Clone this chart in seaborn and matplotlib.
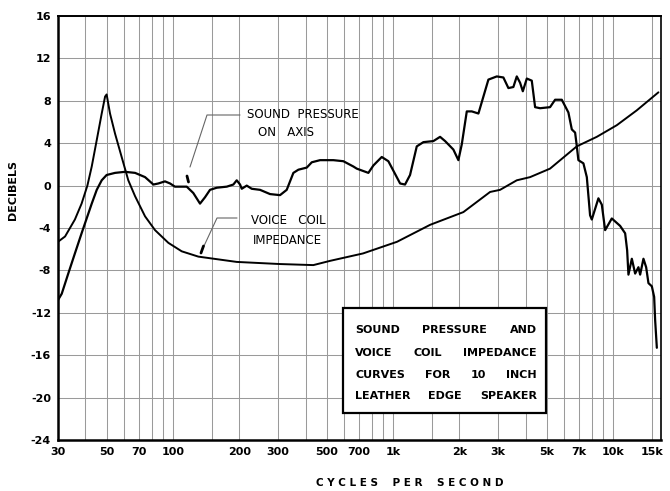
import matplotlib
matplotlib.use("Agg")
import matplotlib.pyplot as plt
import numpy as np
import pandas as pd
import seaborn as sns
from matplotlib.patches import Rectangle
from matplotlib.ticker import NullLocator

# Sound pressure on axis (dB) against frequency (c/s)
spl_freq = [30, 31.2, 33.4, 35.8, 38.4, 40.8, 42.7, 45.0, 47.4, 49.9, 54.5, 60.5,
            67.2, 74.6, 81.4, 85.7, 91.9, 96.9, 102, 115.4, 123.6, 132.6, 139.7,
            147.2, 158, 175.4, 187.9, 194.7, 201.6, 205.2, 216.2, 227.8, 248.5,
            275.9, 306.3, 328.5, 352.2, 371.2, 405.2, 427, 465.7, 535.3, 594.3,
            660, 683.7, 772, 813.6, 888, 951.6, 1021, 1076, 1133, 1194, 1281,
            1373, 1524, 1635, 1723, 1879, 1980, 2052, 2162, 2278, 2442, 2573,
            2711, 2960, 3171, 3342, 3520, 3648, 3777, 3886, 4052, 4268, 4419,
            4656, 5168, 5448, 5843, 6261, 6489, 6717, 6838, 6951, 7326, 7592,
            7856, 7999, 8571, 8882, 9196, 9860, 10756, 11338, 11577, 11736,
            12160, 12589, 13030, 13265, 13731, 14125, 14470, 14991, 15360,
            15520, 15797]
spl_db = [-10.8, -10.2, -8.3, -6.4, -4.5, -2.9, -1.7, -0.4, 0.5, 1.0, 1.2, 1.3,
          1.2, 0.8, 0.1, 0.2, 0.4, 0.2, -0.1, -0.1, -0.7, -1.7, -1.1,
          -0.4, -0.2, -0.1, 0.1, 0.5, 0.1, -0.3, 0.0, -0.3, -0.4,
          -0.8, -0.9, -0.4, 1.2, 1.5, 1.7, 2.2, 2.4, 2.4, 2.3,
          1.8, 1.6, 1.2, 1.9, 2.7, 2.3, 1.1, 0.2, 0.1, 1.0, 3.7,
          4.1, 4.2, 4.6, 4.2, 3.4, 2.4, 3.9, 7.0, 7.0, 6.8, 8.4,
          10.0, 10.3, 10.2, 9.2, 9.3, 10.3, 9.7, 8.9, 10.1, 9.9, 7.4,
          7.3, 7.4, 8.1, 8.1, 6.9, 5.3, 5.0, 3.7, 2.4, 2.1, 0.8,
          -2.8, -3.2, -1.2, -1.8, -4.2, -3.1, -3.8, -4.5, -6.1, -8.4,
          -6.9, -8.3, -7.7, -8.4, -6.9, -7.7, -9.2, -9.5, -10.5,
          -12.7, -15.3]

# Voice coil impedance (dB) against frequency (c/s)
imp_freq = [30, 32.3, 35.8, 38.4, 40.8, 42.7, 45.0, 47.4, 49.1, 49.9, 51.7, 54.5,
            58.4, 62.6, 67.2, 74.6, 82.8, 95.2, 109.5, 130.3, 194.7, 306, 434,
            517, 730, 1042, 1473, 2086, 2759, 3063, 3648, 4193, 5166, 6833,
            8427, 10392, 12804, 16062]
imp_db = [-5.3, -4.8, -3.2, -1.7, 0.0, 1.8, 4.3, 6.8, 8.4, 8.6, 6.8, 4.9,
          2.7, 0.5, -1.0, -2.9, -4.2, -5.4, -6.2, -6.7, -7.2, -7.4, -7.5,
          -7.1, -6.4, -5.3, -3.7, -2.5, -0.6, -0.4, 0.5, 0.8, 1.6, 3.7,
          4.6, 5.7, 7.1, 8.8]

y_ticks = list(range(-24, 17, 4))
x_grid = [30, 40, 50, 60, 70, 80, 90, 100, 150, 200, 300, 400, 500, 600, 700,
          800, 900, 1000, 1500, 2000, 3000, 4000, 5000, 6000, 7000, 8000, 9000,
          10000, 15000]
x_tick_text = {30: "30", 50: "50", 70: "70", 100: "100", 200: "200", 300: "300",
               500: "500", 700: "700", 1000: "1k", 2000: "2k", 3000: "3k",
               5000: "5k", 7000: "7k", 10000: "10k", 15000: "15k"}

box_lines = [["SOUND", "PRESSURE", "AND"],
             ["VOICE", "COIL", "IMPEDANCE"],
             ["CURVES", "FOR", "10", "INCH"],
             ["LEATHER", "EDGE", "SPEAKER"]]

sns.set_theme(style="white")
plt.rcParams["font.family"] = ["DejaVu Sans"]
plt.rcParams["text.color"] = "black"
plt.rcParams["axes.labelcolor"] = "black"

W, H = 670, 491
fig = plt.figure(figsize=(W / 100, H / 100), dpi=100)
L, R, T, B = 58, 661, 16, 440
ax = fig.add_axes([L / W, 1 - B / H, (R - L) / W, (B - T) / H])

spl = pd.DataFrame({"freq": spl_freq, "db": spl_db})
imp = pd.DataFrame({"freq": imp_freq, "db": imp_db})
sns.lineplot(data=spl, x="freq", y="db", estimator=None, sort=False,
             color="black", lw=1.6, ax=ax, zorder=3)
sns.lineplot(data=imp, x="freq", y="db", estimator=None, sort=False,
             color="black", lw=1.4, ax=ax, zorder=3)

ax.set_xscale("log")
ax.set_xlim(30, 16500)
ax.set_ylim(-24, 16)
ax.set_xticks(x_grid)
ax.set_xticklabels([x_tick_text.get(v, "") for v in x_grid])
ax.xaxis.set_minor_locator(NullLocator())
ax.set_yticks(y_ticks)
ax.set_yticklabels([str(v) for v in y_ticks])
ax.grid(True, color="#9a9a9a", lw=0.75, zorder=0)
ax.tick_params(length=0, labelsize=8, colors="black")
ax.tick_params(axis="x", pad=5)
ax.tick_params(axis="y", pad=5)
for lab in ax.get_xticklabels() + ax.get_yticklabels():
    lab.set_fontweight("bold")

for side, lw in [("left", 1.8), ("bottom", 1.8), ("top", 1.4), ("right", 1.2)]:
    ax.spines[side].set_visible(True)
    ax.spines[side].set_color("black")
    ax.spines[side].set_linewidth(lw)

ax.set_ylabel("DECIBELS", fontsize=8, fontweight="bold", color="black")
ax.yaxis.set_label_coords(-0.066, 0.59)
ax.set_xlabel("C Y C L E S    P E R    S E C O N D", fontsize=7.5,
              fontweight="bold", color="black")
ax.xaxis.set_label_coords(0.583, -0.09)


def fx(px):
    return (px - L) / (R - L)


def fy(py):
    return (B - py) / (B - T)


lab_kw = dict(transform=ax.transAxes, fontsize=8.5, ha="left", va="center",
              color="black", zorder=5)
ax.text(fx(247), fy(115), "SOUND  PRESSURE", **lab_kw)
ax.text(fx(258), fy(132), "ON   AXIS", **lab_kw)
ax.text(fx(251), fy(221), "VOICE   COIL", **lab_kw)
ax.text(fx(253), fy(241), "IMPEDANCE", **lab_kw)

lead_kw = dict(transform=ax.transAxes, color="#666666", lw=0.8, zorder=4)
ax.plot([fx(240), fx(207), fx(190)], [fy(115), fy(115), fy(167)], **lead_kw)
ax.plot([fx(237), fx(217), fx(204)], [fy(218), fy(218), fy(246)], **lead_kw)
mark_kw = dict(transform=ax.transAxes, color="black", lw=2.0, zorder=4)
ax.plot([fx(187), fx(188.5)], [fy(176), fy(182)], **mark_kw)
ax.plot([fx(201), fx(203.5)], [fy(253), fy(246)], **mark_kw)

# Title block
bx0, bx1, by0, by1 = 343, 546, 308, 413
ax.add_patch(Rectangle((fx(bx0), fy(by1)), fx(bx1) - fx(bx0), fy(by0) - fy(by1),
                       transform=ax.transAxes, facecolor="white",
                       edgecolor="black", lw=1.6, zorder=6))

renderer = fig.canvas.get_renderer()
ax_px = ax.get_window_extent(renderer).width
tx0, tx1 = fx(355), fx(537)
for words, py in zip(box_lines, [330, 353, 375, 396]):
    texts = [ax.text(0, fy(py), w, transform=ax.transAxes, ha="left", va="center",
                     fontsize=8, fontweight="bold", color="black", zorder=7)
             for w in words]
    widths = [t.get_window_extent(renderer).width / ax_px for t in texts]
    gap = ((tx1 - tx0) - sum(widths)) / (len(words) - 1)
    x = tx0
    for t, w in zip(texts, widths):
        t.set_x(x)
        x += w + gap

fig.savefig("out.png", dpi=100, facecolor="white")
